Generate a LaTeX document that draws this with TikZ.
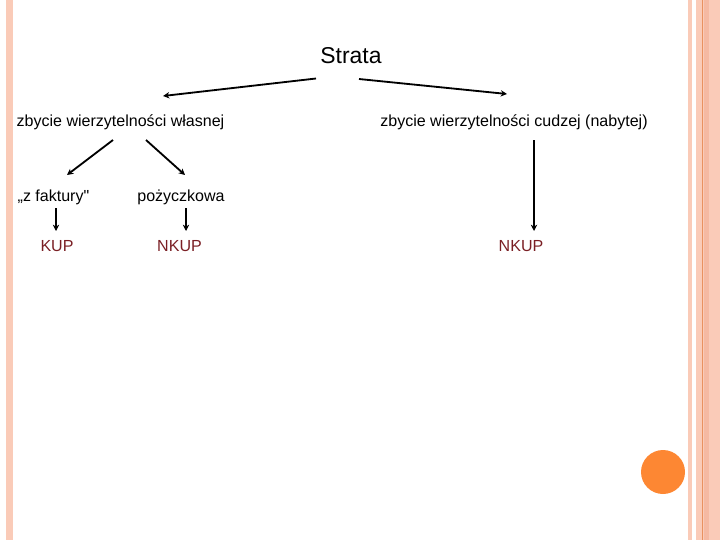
\documentclass[tikz,border=0pt]{standalone}
\usepackage{fontspec}
\setmainfont{Liberation Sans}
\usetikzlibrary{arrows.meta}
\definecolor{salmon}{HTML}{FACBB8}
\definecolor{salmondark}{HTML}{F5B9A2}
\definecolor{rustline}{HTML}{E9915F}
\definecolor{dotorange}{HTML}{FD8733}
\definecolor{kupred}{HTML}{7A1F24}

\begin{document}
\begin{tikzpicture}[x=0.025cm,y=-0.025cm,
    txt/.style={font=\fontsize{11.4}{13}\selectfont,inner sep=0pt},
    res/.style={txt,text=kupred},
    arr/.style={line width=1.3pt,-{Stealth[length=4.5pt,width=4.5pt]}}]
\useasboundingbox (0,0) rectangle (720,540);
% frame
\fill[salmon] (6,0) rectangle (13,540);
\fill[salmon] (688,0) rectangle (692,540);
\fill[salmon] (696,0) rectangle (720,540);
\fill[salmondark] (704,0) rectangle (709,540);
\draw[rustline,line width=0.6pt] (702,0) -- (702,540);
\fill[dotorange] (663,472) circle (22);
% labels
\node[inner sep=0pt,font=\fontsize{16.3}{18}\selectfont] (strata) at (351,56) {Strata};
\node[txt] (wlasna) at (120.5,122) {zbycie wierzytelności własnej};
\node[txt] (cudza) at (514,122) {zbycie wierzytelności cudzej (nabytej)};
\node[txt] (faktura) at (53.5,197) {„z faktury\textquotedbl};
\node[txt] (pozyczka) at (181,197) {pożyczkowa};
\node[res] (kup) at (57,246) {KUP};
\node[res] (nkupa) at (179.5,246) {NKUP};
\node[res] (nkupb) at (521,246) {NKUP};
% arrows
\coordinate (s1) at (316,78.5);
\coordinate (s2) at (359,79);
\coordinate (w1) at (113,140);
\coordinate (w2) at (146,140);
\coordinate (c1) at (534,140);
\coordinate (f1) at (56,208);
\coordinate (p1) at (186,208);
\draw[arr] (s1) -- (163,96) coordinate (w0);
\draw[arr] (s2) -- (507,94) coordinate (c0);
\draw[arr] (w1) -- (67,175) coordinate (f0);
\draw[arr] (w2) -- (185,175) coordinate (p0);
\draw[arr] (f1) -- (f1 |- 0,231);
\draw[arr] (p1) -- (p1 |- 0,231);
\draw[arr] (c1) -- (c1 |- 0,231);
\end{tikzpicture}
\end{document}
